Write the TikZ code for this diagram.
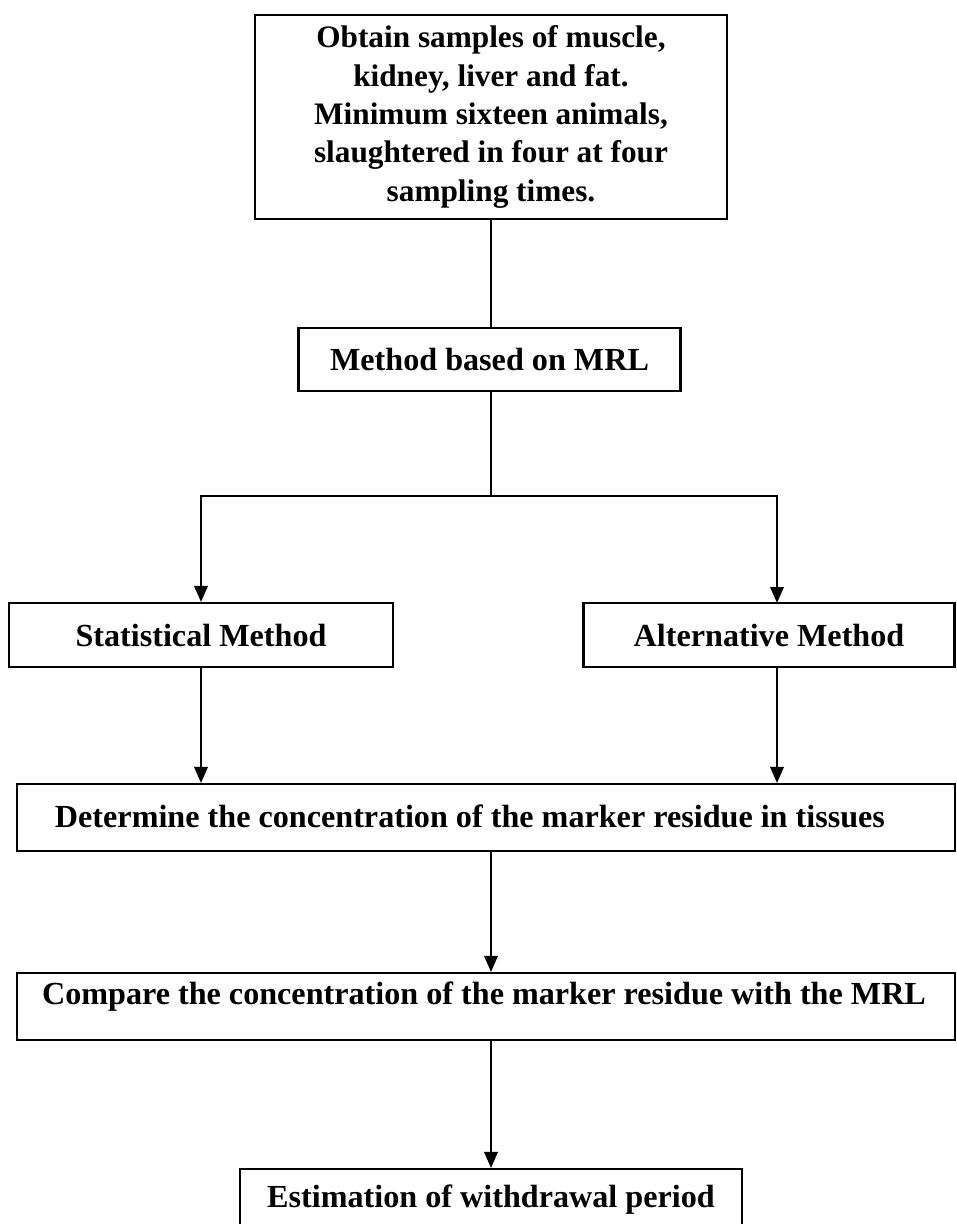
\documentclass[tikz,border=0pt]{standalone}
\usepackage{fontspec}
\setmainfont{Liberation Serif}
\usepackage{tikz}
\usetikzlibrary{arrows.meta, positioning, calc}

\begin{document}
\begin{tikzpicture}[
  font=\fontsize{18.3}{21.5}\selectfont\bfseries,
  box/.style={draw=black, line width=1.2pt, align=center, inner sep=2mm},
  txt/.style={align=center, inner sep=0pt},
  ln/.style={line width=0.9pt, draw=black},
  ar/.style={-{Triangle[length=3.2mm, width=2.7mm]}, line width=1.1pt, draw=black}
]
  \clip (0,0) rectangle (19.14,-24.48);
  \useasboundingbox (0,0) rectangle (19.14,-24.48);

  \node[box, minimum width=9.44cm, minimum height=4.08cm,
        font=\fontsize{17.8}{21.8}\selectfont\bfseries] (samples) at (9.82,-2.34)
      {Obtain samples of muscle,\\kidney, liver and fat.\\Minimum sixteen animals,\\
       slaughtered in four at four\\sampling times.};
  \node[box, minimum width=7.64cm, minimum height=1.27cm] (mrl) at (9.79,-7.19)
      {Method based on MRL};

  % two routes from the MRL method
  \node[box, minimum width=7.68cm, minimum height=1.28cm] (stat) at (4.02,-12.70)
      {Statistical Method};
  \node[box, minimum width=7.42cm, minimum height=1.28cm] (alt) at (15.38,-12.70)
      {Alternative Method};
  \coordinate (altin) at (15.54,-12.06);

  % wide boxes reach the right edge
  \node[box, minimum width=18.76cm, minimum height=1.34cm] (conc) at (9.72,-16.35) {};
  \node[txt] (conctxt) at (9.40,-16.33)
      {Determine the concentration of the marker residue in tissues};
  \node[box, minimum width=18.76cm, minimum height=1.34cm] (cmp) at (9.72,-20.13) {};
  \node[txt] (cmptxt) at (9.68,-19.93)
      {Compare the concentration of the marker residue with the MRL};
  \node[box, minimum width=10.04cm, minimum height=1.62cm] (wdp) at (9.82,-24.19) {};
  \node[txt] (wdptxt) at ($(wdp.center)+(0,0.19)$)
      {Estimation of withdrawal period};

  \coordinate (split) at (9.82,-9.92);
  \draw[ln] (samples.south) -- (samples.south |- mrl.north);
  \draw[ln] (mrl.south -| split) -- (split);
  \draw[ar] (split) -| (stat.north);
  \draw[ar] (split) -| (altin);

  % both routes end at the tissue concentrations
  \draw[ar] (stat.south) -- (stat.south |- conc.north);
  \draw[ar] (alt.south -| altin) -- (altin |- conc.north);
  \draw[ar] (conc.south -| split) -- (split |- cmp.north);
  \draw[ar] (cmp.south -| split) -- (wdp.north);
\end{tikzpicture}
\end{document}
